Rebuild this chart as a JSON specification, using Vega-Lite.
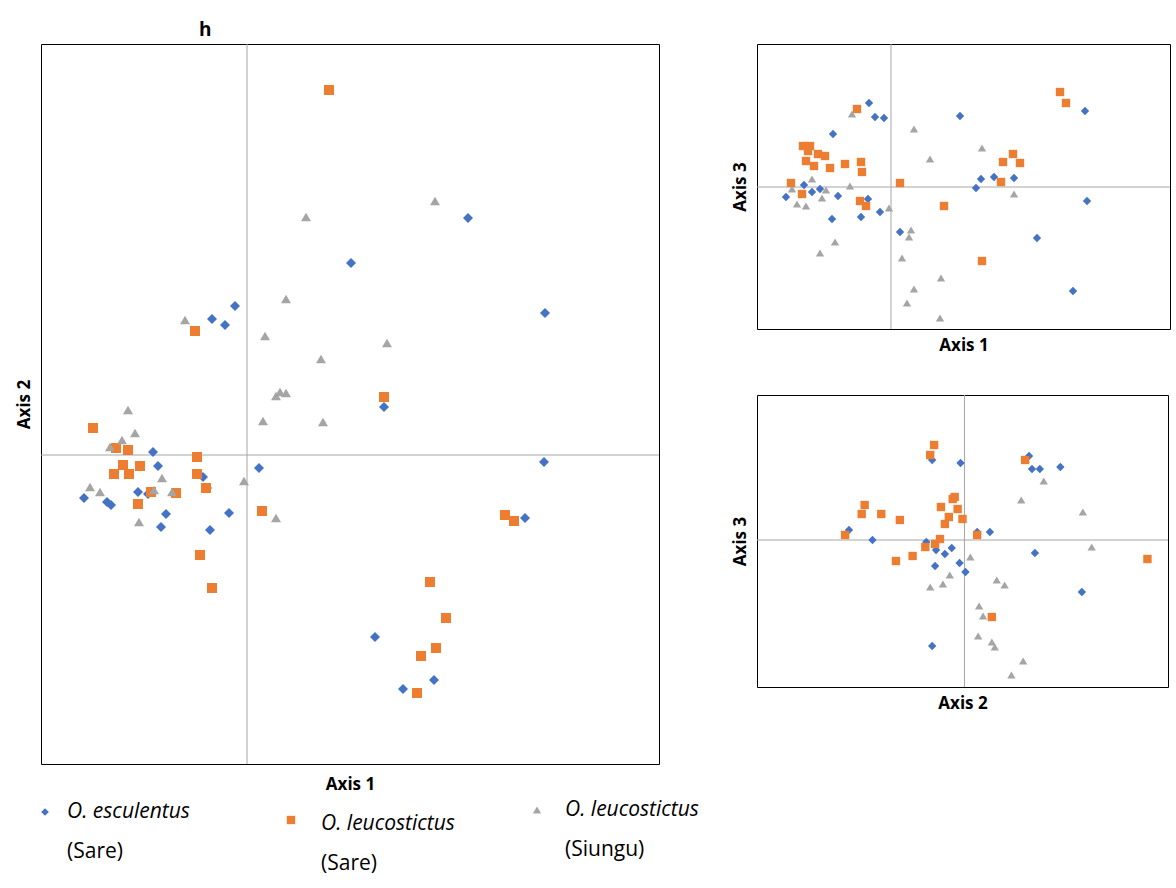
{
  "$schema": "https://vega.github.io/schema/vega-lite/v6.json",
  "background": "white",
  "padding": {"left": 14, "top": 20, "right": 5, "bottom": 0},
  "config": {
    "font": "Open Sans",
    "view": {"stroke": "black", "strokeWidth": 1},
    "axis": {"labels": false, "ticks": false, "domain": false, "grid": false, "titleFontSize": 17, "titleFontWeight": "bold", "titleColor": "black", "titlePadding": 8},
    "point": {"filled": true, "size": 100, "opacity": 1}
  },
  "datasets": {
    "main": [
      {"sp":"esc","x":469,"y":218},{"sp":"esc","x":352,"y":263},{"sp":"esc","x":546,"y":313},{"sp":"esc","x":236,"y":306},{"sp":"esc","x":213,"y":319},{"sp":"esc","x":226,"y":325},{"sp":"esc","x":385,"y":407},{"sp":"esc","x":545,"y":462},{"sp":"esc","x":260,"y":468},{"sp":"esc","x":154,"y":452},{"sp":"esc","x":159,"y":466},{"sp":"esc","x":204,"y":477},{"sp":"esc","x":208,"y":488},{"sp":"esc","x":139,"y":492},{"sp":"esc","x":149,"y":494},{"sp":"esc","x":85,"y":498},{"sp":"esc","x":108,"y":502},{"sp":"esc","x":112,"y":505},{"sp":"esc","x":167,"y":514},{"sp":"esc","x":162,"y":527},{"sp":"esc","x":230,"y":513},{"sp":"esc","x":211,"y":530},{"sp":"esc","x":526,"y":518},{"sp":"esc","x":376,"y":637},{"sp":"esc","x":435,"y":680},{"sp":"esc","x":404,"y":689},
      {"sp":"leu","x":330,"y":90},{"sp":"leu","x":196,"y":331},{"sp":"leu","x":385,"y":397},{"sp":"leu","x":94,"y":428},{"sp":"leu","x":117,"y":448},{"sp":"leu","x":129,"y":450},{"sp":"leu","x":124,"y":465},{"sp":"leu","x":115,"y":474},{"sp":"leu","x":130,"y":474},{"sp":"leu","x":141,"y":466},{"sp":"leu","x":198,"y":457},{"sp":"leu","x":198,"y":474},{"sp":"leu","x":207,"y":488},{"sp":"leu","x":139,"y":504},{"sp":"leu","x":152,"y":492},{"sp":"leu","x":177,"y":493},{"sp":"leu","x":263,"y":511},{"sp":"leu","x":201,"y":555},{"sp":"leu","x":213,"y":588},{"sp":"leu","x":506,"y":515},{"sp":"leu","x":515,"y":521},{"sp":"leu","x":431,"y":582},{"sp":"leu","x":447,"y":618},{"sp":"leu","x":437,"y":648},{"sp":"leu","x":422,"y":656},{"sp":"leu","x":418,"y":693},
      {"sp":"siu","x":307,"y":217},{"sp":"siu","x":436,"y":201},{"sp":"siu","x":287,"y":299},{"sp":"siu","x":186,"y":320},{"sp":"siu","x":266,"y":336},{"sp":"siu","x":388,"y":343},{"sp":"siu","x":322,"y":359},{"sp":"siu","x":277,"y":396},{"sp":"siu","x":287,"y":393},{"sp":"siu","x":281,"y":392},{"sp":"siu","x":264,"y":421},{"sp":"siu","x":324,"y":422},{"sp":"siu","x":129,"y":410},{"sp":"siu","x":123,"y":440},{"sp":"siu","x":111,"y":447},{"sp":"siu","x":136,"y":433},{"sp":"siu","x":163,"y":478},{"sp":"siu","x":245,"y":481},{"sp":"siu","x":277,"y":518},{"sp":"siu","x":91,"y":487},{"sp":"siu","x":101,"y":492},{"sp":"siu","x":140,"y":522},{"sp":"siu","x":173,"y":492},{"sp":"siu","x":155,"y":490}
    ],
    "tr": [
      {"sp":"esc","x":869,"y":97},{"sp":"esc","x":875,"y":111},{"sp":"esc","x":884,"y":112},{"sp":"esc","x":960,"y":110},{"sp":"esc","x":1085,"y":105},{"sp":"esc","x":833,"y":128},{"sp":"esc","x":1087,"y":195},{"sp":"esc","x":786,"y":191},{"sp":"esc","x":804,"y":179},{"sp":"esc","x":820,"y":183},{"sp":"esc","x":838,"y":190},{"sp":"esc","x":868,"y":193},{"sp":"esc","x":880,"y":206},{"sp":"esc","x":832,"y":213},{"sp":"esc","x":861,"y":211},{"sp":"esc","x":900,"y":226},{"sp":"esc","x":976,"y":182},{"sp":"esc","x":981,"y":173},{"sp":"esc","x":994,"y":171},{"sp":"esc","x":1014,"y":172},{"sp":"esc","x":1037,"y":232},{"sp":"esc","x":1073,"y":285},{"sp":"esc","x":812,"y":186},
      {"sp":"leu","x":857,"y":103},{"sp":"leu","x":1060,"y":86},{"sp":"leu","x":1066,"y":97},{"sp":"leu","x":803,"y":140},{"sp":"leu","x":810,"y":140},{"sp":"leu","x":818,"y":148},{"sp":"leu","x":806,"y":155},{"sp":"leu","x":814,"y":160},{"sp":"leu","x":825,"y":150},{"sp":"leu","x":845,"y":158},{"sp":"leu","x":861,"y":156},{"sp":"leu","x":862,"y":166},{"sp":"leu","x":830,"y":162},{"sp":"leu","x":791,"y":177},{"sp":"leu","x":802,"y":188},{"sp":"leu","x":900,"y":177},{"sp":"leu","x":944,"y":200},{"sp":"leu","x":860,"y":195},{"sp":"leu","x":866,"y":200},{"sp":"leu","x":1003,"y":156},{"sp":"leu","x":1013,"y":148},{"sp":"leu","x":1020,"y":157},{"sp":"leu","x":1001,"y":176},{"sp":"leu","x":982,"y":255},{"sp":"leu","x":808,"y":145},
      {"sp":"siu","x":852,"y":108},{"sp":"siu","x":914,"y":123},{"sp":"siu","x":930,"y":153},{"sp":"siu","x":982,"y":142},{"sp":"siu","x":1014,"y":188},{"sp":"siu","x":812,"y":173},{"sp":"siu","x":792,"y":183},{"sp":"siu","x":797,"y":198},{"sp":"siu","x":806,"y":200},{"sp":"siu","x":822,"y":192},{"sp":"siu","x":826,"y":184},{"sp":"siu","x":850,"y":180},{"sp":"siu","x":889,"y":202},{"sp":"siu","x":911,"y":224},{"sp":"siu","x":909,"y":231},{"sp":"siu","x":835,"y":236},{"sp":"siu","x":820,"y":247},{"sp":"siu","x":902,"y":252},{"sp":"siu","x":941,"y":272},{"sp":"siu","x":914,"y":283},{"sp":"siu","x":907,"y":297},{"sp":"siu","x":940,"y":312}
    ],
    "br": [
      {"sp":"esc","x":927,"y":461},{"sp":"esc","x":1026,"y":457},{"sp":"esc","x":1037,"y":470},{"sp":"esc","x":1058,"y":468},{"sp":"esc","x":1029,"y":470},{"sp":"esc","x":956,"y":464},{"sp":"esc","x":842,"y":531},{"sp":"esc","x":866,"y":541},{"sp":"esc","x":921,"y":543},{"sp":"esc","x":931,"y":551},{"sp":"esc","x":947,"y":549},{"sp":"esc","x":940,"y":555},{"sp":"esc","x":961,"y":573},{"sp":"esc","x":930,"y":567},{"sp":"esc","x":955,"y":564},{"sp":"esc","x":986,"y":533},{"sp":"esc","x":1032,"y":554},{"sp":"esc","x":1080,"y":593},{"sp":"esc","x":927,"y":647},{"sp":"esc","x":973,"y":533},
      {"sp":"leu","x":929,"y":446},{"sp":"leu","x":925,"y":456},{"sp":"leu","x":1022,"y":461},{"sp":"leu","x":858,"y":506},{"sp":"leu","x":855,"y":515},{"sp":"leu","x":875,"y":515},{"sp":"leu","x":894,"y":521},{"sp":"leu","x":838,"y":536},{"sp":"leu","x":890,"y":562},{"sp":"leu","x":907,"y":557},{"sp":"leu","x":920,"y":548},{"sp":"leu","x":936,"y":508},{"sp":"leu","x":948,"y":500},{"sp":"leu","x":953,"y":510},{"sp":"leu","x":958,"y":520},{"sp":"leu","x":944,"y":518},{"sp":"leu","x":940,"y":525},{"sp":"leu","x":935,"y":540},{"sp":"leu","x":930,"y":545},{"sp":"leu","x":973,"y":536},{"sp":"leu","x":988,"y":618},{"sp":"leu","x":1147,"y":560},{"sp":"leu","x":950,"y":498},
      {"sp":"siu","x":1041,"y":482},{"sp":"siu","x":1018,"y":501},{"sp":"siu","x":1081,"y":513},{"sp":"siu","x":1090,"y":548},{"sp":"siu","x":966,"y":558},{"sp":"siu","x":993,"y":581},{"sp":"siu","x":945,"y":576},{"sp":"siu","x":938,"y":585},{"sp":"siu","x":925,"y":588},{"sp":"siu","x":975,"y":607},{"sp":"siu","x":979,"y":617},{"sp":"siu","x":988,"y":643},{"sp":"siu","x":991,"y":648},{"sp":"siu","x":1020,"y":662},{"sp":"siu","x":1008,"y":676},{"sp":"siu","x":974,"y":637},{"sp":"siu","x":1001,"y":586}
    ],
    "legend": [
      {"sp":"esc","l1":"O. esculentus","l2":"(Sare)"},
      {"sp":"leu","l1":"O. leucostictus","l2":"(Sare)"},
      {"sp":"siu","l1":"O. leucostictus","l2":"(Siungu)"}
    ]
  },
  "vconcat": [
    {
      "hconcat": [
        {
          "title": {"text": "h", "anchor": "start", "dx": 184, "fontSize": 19, "fontWeight": "bold", "color": "black", "offset": 4},
          "width": 618, "height": 720,
          "data": {"name": "main"},
          "layer": [
            {"data": {"values": [{}]}, "mark": {"type": "rule", "color": "#a6a6a6"}, "encoding": {"x": {"datum": 248, "type": "quantitative"}}},
            {"data": {"values": [{}]}, "mark": {"type": "rule", "color": "#a6a6a6"}, "encoding": {"y": {"datum": 455, "type": "quantitative"}}},
            {
              "mark": "point",
              "encoding": {
                "x": {"field": "x", "type": "quantitative", "scale": {"domain": [42, 660], "nice": false, "zero": false}, "axis": {"title": "Axis 1", "titlePadding": 12}},
                "y": {"field": "y", "type": "quantitative", "scale": {"domain": [44, 764], "nice": false, "zero": false, "reverse": true}, "axis": {"title": "Axis 2"}},
                "shape": {"field": "sp", "scale": {"domain": ["esc", "leu", "siu"], "range": ["diamond", "square", "triangle-up"]}, "legend": null},
                "color": {"field": "sp", "scale": {"domain": ["esc", "leu", "siu"], "range": ["#4472C4", "#ED7D31", "#A5A5A5"]}, "legend": null}
              }
            }
          ]
        },
        {
          "vconcat": [
            {
              "width": 413, "height": 285,
              "data": {"name": "tr"},
              "layer": [
                {"data": {"values": [{}]}, "mark": {"type": "rule", "color": "#a6a6a6"}, "encoding": {"x": {"datum": 891, "type": "quantitative"}}},
                {"data": {"values": [{}]}, "mark": {"type": "rule", "color": "#a6a6a6"}, "encoding": {"y": {"datum": 181, "type": "quantitative"}}},
                {
                  "mark": {"type": "point", "size": 70},
                  "encoding": {
                    "x": {"field": "x", "type": "quantitative", "scale": {"domain": [757, 1170], "nice": false, "zero": false}, "axis": {"title": "Axis 1"}},
                    "y": {"field": "y", "type": "quantitative", "scale": {"domain": [38, 323], "nice": false, "zero": false, "reverse": true}, "axis": {"title": "Axis 3"}},
                    "shape": {"field": "sp", "scale": {"domain": ["esc", "leu", "siu"], "range": ["diamond", "square", "triangle-up"]}, "legend": null},
                    "color": {"field": "sp", "scale": {"domain": ["esc", "leu", "siu"], "range": ["#4472C4", "#ED7D31", "#A5A5A5"]}, "legend": null}
                  }
                }
              ]
            },
            {
              "width": 411, "height": 292,
              "data": {"name": "br"},
              "layer": [
                {"data": {"values": [{}]}, "mark": {"type": "rule", "color": "#a6a6a6"}, "encoding": {"x": {"datum": 960, "type": "quantitative"}}},
                {"data": {"values": [{}]}, "mark": {"type": "rule", "color": "#a6a6a6"}, "encoding": {"y": {"datum": 541, "type": "quantitative"}}},
                {
                  "mark": {"type": "point", "size": 70},
                  "encoding": {
                    "x": {"field": "x", "type": "quantitative", "scale": {"domain": [748, 1168], "nice": false, "zero": false}, "axis": {"title": "Axis 2"}},
                    "y": {"field": "y", "type": "quantitative", "scale": {"domain": [396, 688], "nice": false, "zero": false, "reverse": true}, "axis": {"title": "Axis 3"}},
                    "shape": {"field": "sp", "scale": {"domain": ["esc", "leu", "siu"], "range": ["diamond", "square", "triangle-up"]}, "legend": null},
                    "color": {"field": "sp", "scale": {"domain": ["esc", "leu", "siu"], "range": ["#4472C4", "#ED7D31", "#A5A5A5"]}, "legend": null}
                  }
                }
              ]
            }
          ],
          "spacing": 40
        }
      ],
      "spacing": 70
    },
    {
      "hconcat": [
        {
          "width": 245, "height": 80, "view": {"stroke": null},
          "data": {"name": "legend"},
          "transform": [{"filter": "datum.sp === 'esc'"}],
          "layer": [
            {"mark": {"type": "point", "shape": "diamond", "color": "#4472C4", "size": 60}, "encoding": {"x": {"value": 4}, "y": {"value": 12}}},
            {"mark": {"type": "text", "align": "left", "fontSize": 21, "fontStyle": "italic", "color": "black"}, "encoding": {"x": {"value": 26}, "y": {"value": 12}, "text": {"field": "l1"}}},
            {"mark": {"type": "text", "align": "left", "fontSize": 21, "color": "black"}, "encoding": {"x": {"value": 26}, "y": {"value": 52}, "text": {"field": "l2"}}}
          ]
        },
        {
          "width": 245, "height": 80, "view": {"stroke": null},
          "data": {"name": "legend"},
          "transform": [{"filter": "datum.sp === 'leu'"}],
          "layer": [
            {"mark": {"type": "point", "shape": "square", "color": "#ED7D31", "size": 70}, "encoding": {"x": {"value": 4}, "y": {"value": 20}}},
            {"mark": {"type": "text", "align": "left", "fontSize": 21, "fontStyle": "italic", "color": "black"}, "encoding": {"x": {"value": 34}, "y": {"value": 24}, "text": {"field": "l1"}}},
            {"mark": {"type": "text", "align": "left", "fontSize": 21, "color": "black"}, "encoding": {"x": {"value": 34}, "y": {"value": 64}, "text": {"field": "l2"}}}
          ]
        },
        {
          "width": 240, "height": 80, "view": {"stroke": null},
          "data": {"name": "legend"},
          "transform": [{"filter": "datum.sp === 'siu'"}],
          "layer": [
            {"mark": {"type": "point", "shape": "triangle-up", "color": "#A5A5A5", "size": 70}, "encoding": {"x": {"value": 4}, "y": {"value": 10}}},
            {"mark": {"type": "text", "align": "left", "fontSize": 21, "fontStyle": "italic", "color": "black"}, "encoding": {"x": {"value": 32}, "y": {"value": 10}, "text": {"field": "l1"}}},
            {"mark": {"type": "text", "align": "left", "fontSize": 21, "color": "black"}, "encoding": {"x": {"value": 32}, "y": {"value": 50}, "text": {"field": "l2"}}}
          ]
        }
      ],
      "spacing": 0
    }
  ],
  "spacing": 6
}
